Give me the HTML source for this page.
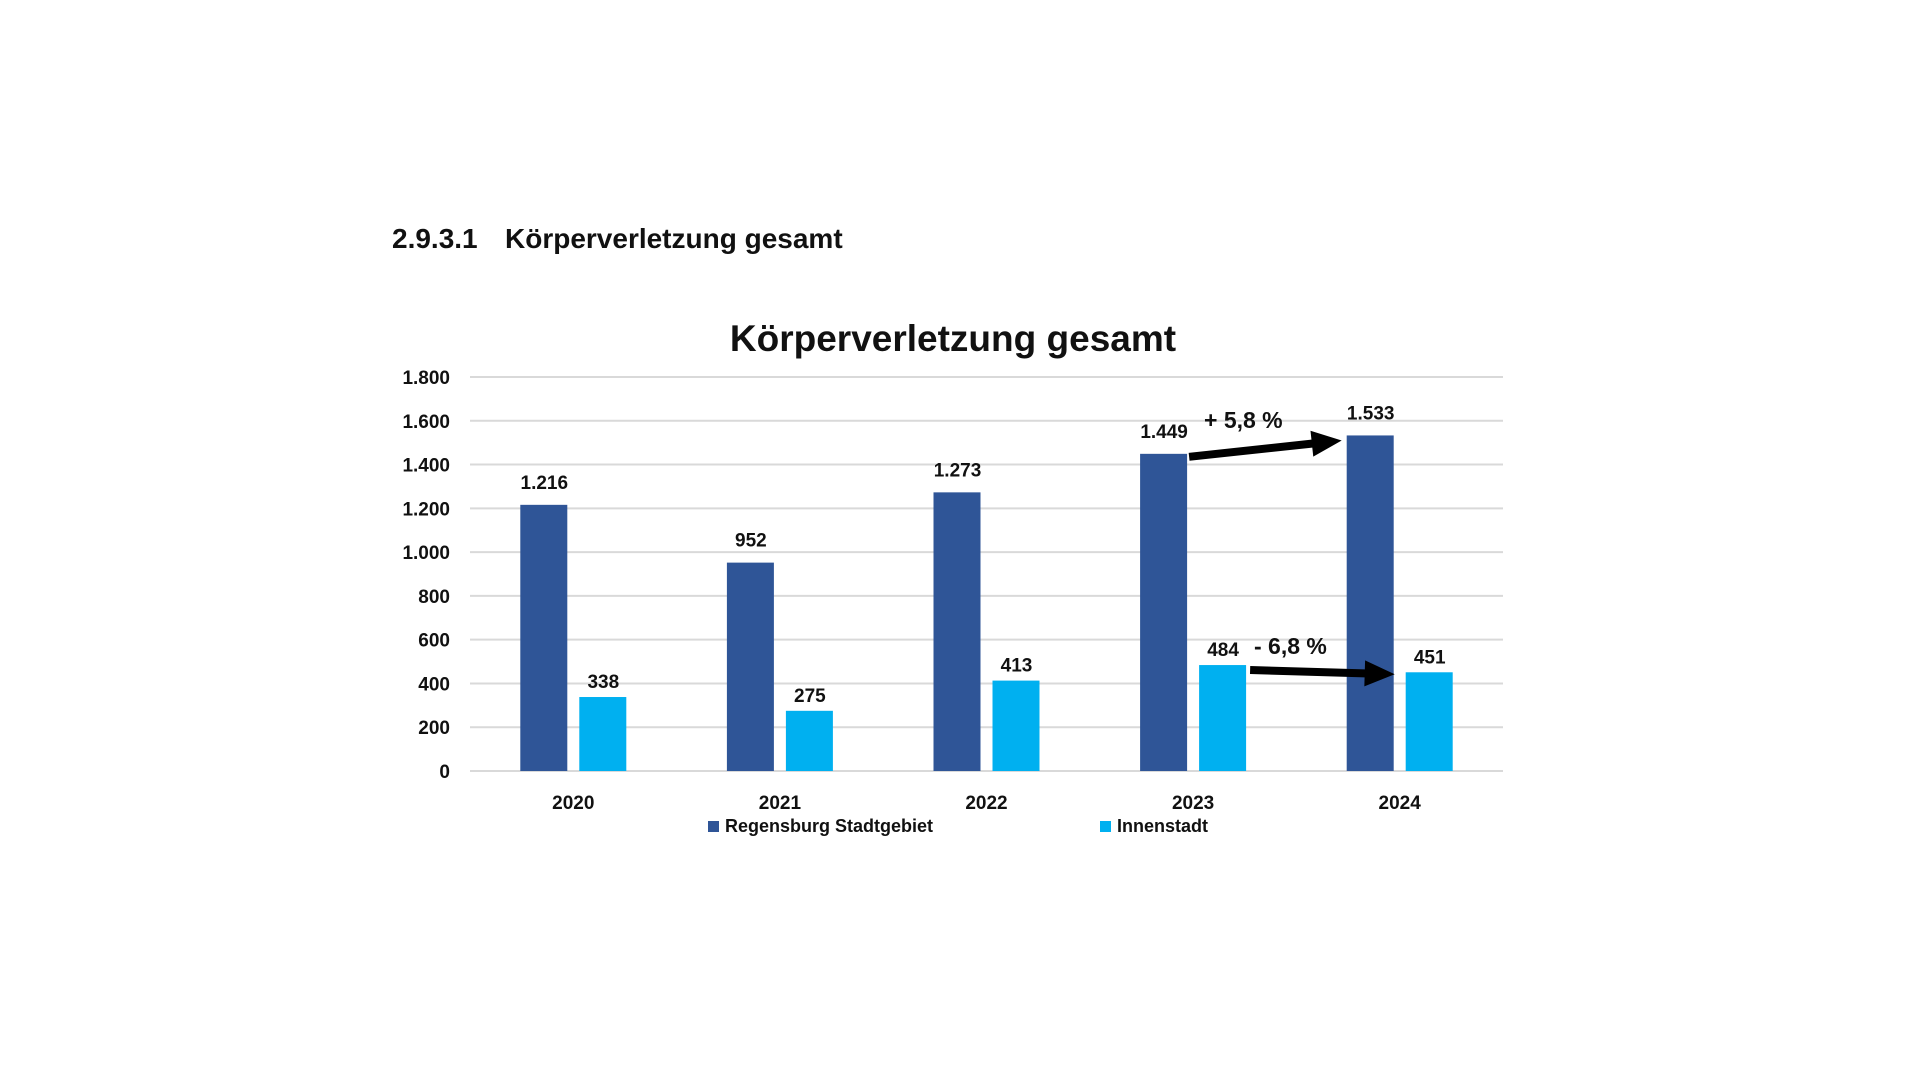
<!DOCTYPE html>
<html><head><meta charset="utf-8">
<style>
html,body{margin:0;padding:0;background:#fff;width:1920px;height:1080px;overflow:hidden;font-family:"Liberation Sans",sans-serif;}
svg text{font-family:"Liberation Sans",sans-serif;font-weight:bold;fill:#111;}
</style></head>
<body>
<svg id="chart" width="1920" height="1080">
  <text x="392" y="248" font-size="28">2.9.3.1</text>
  <text x="505" y="248" font-size="28">Körperverletzung gesamt</text>
  <text x="953" y="351" font-size="37" text-anchor="middle">Körperverletzung gesamt</text>
  <g id="grid"></g><g id="bars"></g><g id="labels"></g><g id="ann"></g>
  <rect x="708" y="821" width="11" height="11" fill="#2F5597"/>
  <text x="725" y="832" font-size="18">Regensburg Stadtgebiet</text>
  <rect x="1100" y="821" width="11" height="11" fill="#00B0F0"/>
  <text x="1117" y="832" font-size="18">Innenstadt</text>
</svg>
<script>
const categories = ["2020","2021","2022","2023","2024"];
const stadtgebiet = [1216, 952, 1273, 1449, 1533];
const innenstadt = [338, 275, 413, 484, 451];
const yTicks = [0,200,400,600,800,1000,1200,1400,1600,1800];
const yTickLabels = ["0","200","400","600","800","1.000","1.200","1.400","1.600","1.800"];
const valueLabelsS = ["1.216","952","1.273","1.449","1.533"];
const valueLabelsI = ["338","275","413","484","451"];

const NS="http://www.w3.org/2000/svg";
const x0=470,x1=1503,yBase=771,yTop=377,yMax=1800;
const y=v=>yBase-(v/yMax)*(yBase-yTop);
const band=(x1-x0)/categories.length;
const xc=i=>x0+band*(i+0.5);
function mk(tag,attrs,parent){const e=document.createElementNS(NS,tag);for(const k in attrs)e.setAttribute(k,attrs[k]);document.getElementById(parent).appendChild(e);return e;}

yTicks.forEach((t,i)=>{
  const l=mk('line',{x1:x0,x2:x1,y1:y(t),y2:y(t),stroke:'#d9d9d9','stroke-width':2},'grid');
  
  
  const tx=mk('text',{x:450,y:y(t)+7,'font-size':19,'text-anchor':'end'},'grid');
  tx.textContent=yTickLabels[i];
  
  
});
categories.forEach((c,i)=>{
  const cx=xc(i);
  const b1=mk('rect',{x:cx-53,y:y(stadtgebiet[i]),width:47,height:yBase-y(stadtgebiet[i]),fill:'#2F5597'},'bars');
  
  
  const b2=mk('rect',{x:cx+6,y:y(innenstadt[i]),width:47,height:yBase-y(innenstadt[i]),fill:'#00B0F0'},'bars');
  
  
  const l1=mk('text',{x:cx-29,y:y(stadtgebiet[i])-16,'font-size':19,'text-anchor':'middle'},'labels');
  l1.textContent=valueLabelsS[i];
  
  
  const l2=mk('text',{x:cx+30,y:y(innenstadt[i])-9,'font-size':19,'text-anchor':'middle'},'labels');
  l2.textContent=valueLabelsI[i];
  
  
  const xl=mk('text',{x:cx,y:809,'font-size':19,'text-anchor':'middle'},'labels');
  xl.textContent=c;
  
  
});
function arrow(xa,ya,xb,yb,name){
  const ang=Math.atan2(yb-ya,xb-xa),L=30,W=13,h=4;
  const bx=xb-L*Math.cos(ang),by=yb-L*Math.sin(ang);
  const px=-Math.sin(ang),py=Math.cos(ang);
  const pts=[[xa+px*h,ya+py*h],[bx+px*h,by+py*h],[bx+px*W,by+py*W],[xb,yb],[bx-px*W,by-py*W],[bx-px*h,by-py*h],[xa-px*h,ya-py*h]];
  const p=mk('polygon',{points:pts.map(q=>q.join(',')).join(' '),fill:'#000'},'ann');
  
  
}
arrow(xc(3)-4,y(stadtgebiet[3])+3,xc(4)-58,y(stadtgebiet[4])+5,'arrow-stadtgebiet-change');
arrow(xc(3)+57,y(innenstadt[3])+5,xc(4)-5,y(innenstadt[4])+2,'arrow-innenstadt-change');
const a1=mk('text',{x:1204,y:428,'font-size':23},'ann');
a1.textContent='+ 5,8 %';


const a2=mk('text',{x:1254,y:654,'font-size':23},'ann');
a2.textContent='- 6,8 %';


</script>
</body></html>
